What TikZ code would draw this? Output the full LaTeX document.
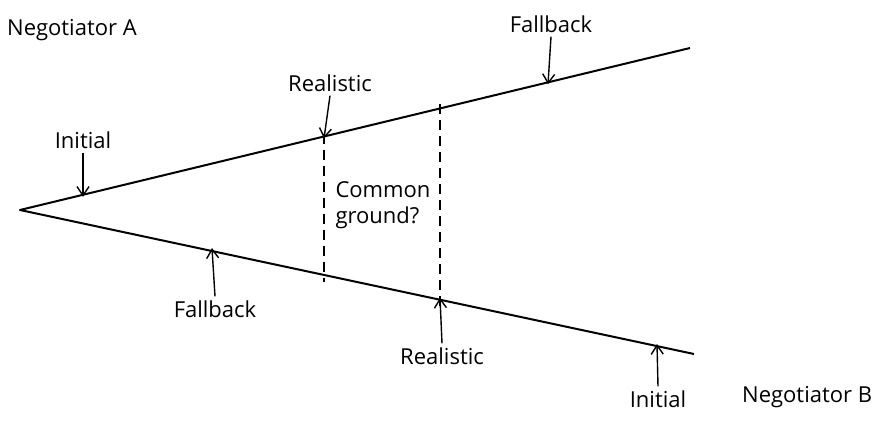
\documentclass[tikz,border=0pt]{standalone}
\usepackage{fontspec}
\setmainfont{Open Sans}
\usetikzlibrary{arrows.meta}
\begin{document}
\begin{tikzpicture}[x=1pt,y=-1pt,
  lbl/.style={inner sep=1pt,font=\fontsize{22}{26}\selectfont},
  edge/.style={line width=2pt,line join=round},
  pointer/.style={line width=1.4pt,-{Straight Barb[length=9pt,width=12pt,line width=1.4pt]}},
  guide/.style={line width=1.4pt,dash pattern=on 10pt off 6pt}]
\useasboundingbox (0,0) rectangle (885,423);
% main lines
\coordinate (apex) at (20,210);
\coordinate (aend) at (690,48);
\coordinate (bend) at (694,354);
\draw[edge] (aend) -- (apex) -- (bend);
% points on the lines
\coordinate (aInit) at (83,194.8);
\coordinate (aReal) at (324,136.5);
\coordinate (aFall) at (548,82.3);
\coordinate (bFall) at (212,251);
\coordinate (bReal) at (440,299.7);
\coordinate (bInit) at (657,346);
\coordinate (aRealB) at (440,108.4);
\coordinate (bRealT) at (324,275);
% dashed guides
\draw[guide] ([yshift=3pt]aReal) -- ([yshift=-7pt]bRealT);
\draw[guide] ([yshift=4pt]aRealB) -- ([yshift=-6pt]bReal);
% labels
\node[lbl,anchor=west] (negA) at (6,30) {Negotiator A};
\node[lbl,anchor=west] (negB) at (741,397) {Negotiator B};
\node[lbl] (tInitA) at (83,140) {Initial};
\node[lbl] (tRealA) at (330,83) {Realistic};
\node[lbl] (tFallA) at (551,24) {Fallback};
\node[lbl] (tFallB) at (215,309) {Fallback};
\node[lbl] (tRealB) at (442,356) {Realistic};
\node[lbl] (tInitB) at (658,399) {Initial};
\node[lbl,align=left] (common) at (383,205) {Common\\ground?};
% pointers
\draw[pointer] ([yshift=-3pt]tInitA.south) -- ([yshift=-2pt]aInit);
\draw[pointer] ([yshift=-3pt]tRealA.south) -- ([yshift=-2pt]aReal);
\draw[pointer] ([yshift=-3pt]tFallA.south) -- ([yshift=-2pt]aFall);
\draw[pointer] ([yshift=3pt]tFallB.north) -- ([yshift=3pt]bFall);
\draw[pointer] ([yshift=3pt]tRealB.north) -- ([yshift=2pt]bReal);
\draw[pointer] ([yshift=3pt]tInitB.north) -- ([yshift=2pt]bInit);
\end{tikzpicture}
\end{document}
